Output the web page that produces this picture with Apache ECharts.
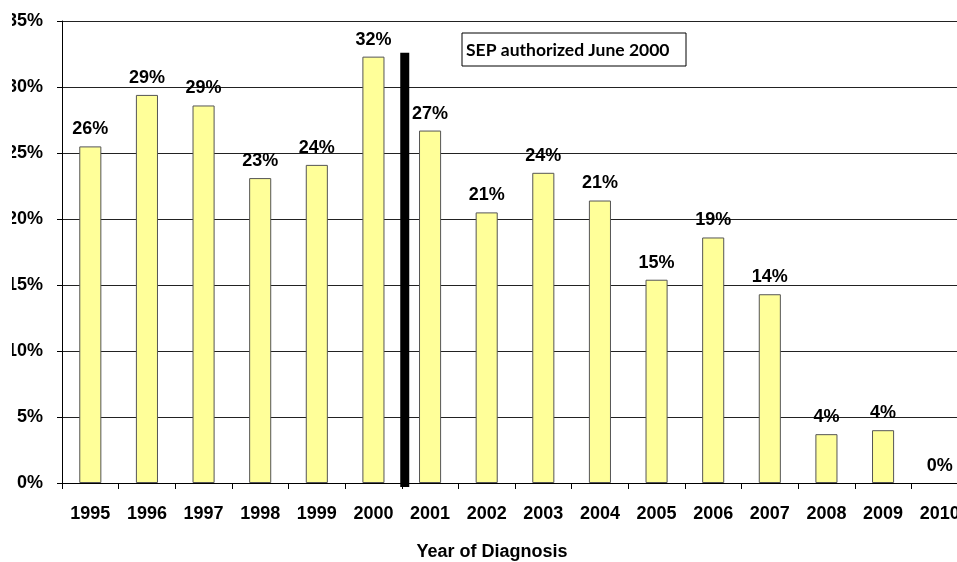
<!DOCTYPE html>
<html>
<head>
<meta charset="utf-8">
<script src="https://cdn.jsdelivr.net/npm/echarts@6/dist/echarts.min.js"></script>
<style>
  html, body { margin: 0; padding: 0; background: #fff; overflow: hidden; }
  #main { position: absolute; left: 12px; top: 0; width: 960px; height: 562px; }
</style>
</head>
<body>
<div id="main"></div>
<script>
// Year of diagnosis and share (%) per year
const years = ['1995', '1996', '1997', '1998', '1999', '2000', '2001', '2002',
  '2003', '2004', '2005', '2006', '2007', '2008', '2009', '2010'];
const shares = [25.5, 29.4, 28.6, 23.1, 24.1, 32.3, 26.7, 20.5,
  23.5, 21.4, 15.4, 18.6, 14.3, 3.7, 4.0, 0];
const shareLabels = ['26%', '29%', '29%', '23%', '24%', '32%', '27%', '21%',
  '24%', '21%', '15%', '19%', '14%', '4%', '4%', '0%'];
const yTicks = [0, 5, 10, 15, 20, 25, 30, 35];

// SEP marker sits between 2000 and 2001
const markerBefore = '2000';
const markerAfter = '2001';
const markerTop = 32.6;
const markerBottom = -0.3;
const noteText = 'SEP authorized June 2000';

const font = '"Liberation Sans", Arial, sans-serif';
const chart = echarts.init(document.getElementById('main'));

chart.setOption({
  animation: false,
  grid: { left: 50, right: 4, top: 21, bottom: 79, containLabel: false, outerBoundsMode: 'none' },
  xAxis: {
    type: 'category',
    data: years,
    boundaryGap: true,
    axisLine: { lineStyle: { color: '#000', width: 1 } },
    axisTick: { show: true, length: 6, lineStyle: { color: '#000' } },
    axisLabel: {
      margin: 22, color: '#000', fontFamily: font, fontWeight: 'bold', fontSize: 18,
      hideOverlap: false
    }
  },
  yAxis: {
    type: 'value',
    min: yTicks[0],
    max: yTicks[yTicks.length - 1],
    interval: 5,
    axisLine: { show: true, lineStyle: { color: '#000', width: 1 } },
    axisTick: { show: true, length: 5, lineStyle: { color: '#000' } },
    splitLine: { lineStyle: { color: '#222', width: 1 } },
    axisLabel: {
      margin: 19, color: '#000', fontFamily: font, fontWeight: 'bold', fontSize: 18,
      formatter: (v) => v + '%'
    }
  },
  series: [{
    type: 'bar',
    // an empty bar gets no outline
    data: shares.map((v) => (v === 0 ? { value: v, itemStyle: { borderWidth: 0 } } : v)),
    barWidth: '39%',
    itemStyle: { color: '#FFFF99', borderColor: '#555', borderWidth: 1 },
    label: {
      show: true,
      position: 'top',
      distance: 8,
      color: '#000',
      fontFamily: font,
      fontWeight: 'bold',
      fontSize: 18,
      formatter: (p) => shareLabels[p.dataIndex]
    }
  }]
});

// vertical marker and note drawn from axis positions
const xa = chart.convertToPixel({ xAxisIndex: 0 }, markerBefore);
const xb = chart.convertToPixel({ xAxisIndex: 0 }, markerAfter);
const yTop = chart.convertToPixel({ yAxisIndex: 0 }, markerTop);
const yBot = chart.convertToPixel({ yAxisIndex: 0 }, markerBottom);
const mid = (xa + xb) / 2;

chart.setOption({
  graphic: [
    {
      type: 'rect',
      shape: { x: mid - 1.5, y: yTop, width: 9, height: yBot - yTop },
      style: { fill: '#000' },
      z: 10
    },
    {
      type: 'rect',
      shape: { x: 450, y: 33, width: 224, height: 33 },
      style: { fill: '#fff', stroke: '#000', lineWidth: 1 },
      z: 10
    },
    {
      type: 'text',
      x: 454, y: 50,
      style: {
        text: noteText, fill: '#000', fontFamily: 'Lato, "Open Sans", sans-serif',
        fontWeight: 'bold', fontSize: 17.5, verticalAlign: 'middle'
      },
      z: 11
    },
    {
      type: 'text',
      x: 480, y: 543,
      style: {
        text: 'Year of Diagnosis', fill: '#000', fontFamily: font,
        fontWeight: 'bold', fontSize: 18, textAlign: 'center', verticalAlign: 'top'
      }
    }
  ]
});
</script>
</body>
</html>
